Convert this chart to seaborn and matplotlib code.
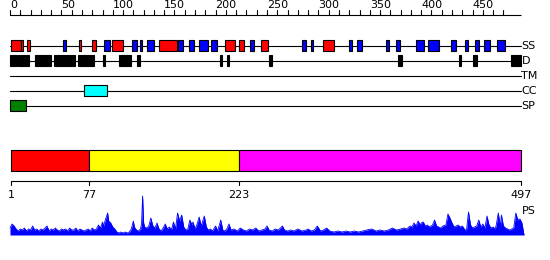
import matplotlib
matplotlib.use("Agg")
import matplotlib.pyplot as plt
from matplotlib.patches import Rectangle
import seaborn as sns
import pandas as pd

# ---------------- data ----------------
seq_len = 497
ruler_ticks = list(range(0, 490, 10))
ruler_labels = list(range(0, 500, 50))

helices = [(1, 11), (11, 13), (17, 19), (67, 69), (80, 84), (99, 110), (145, 162),
           (209, 219), (223, 228), (244, 251), (304, 315)]
strands = [(52, 54), (91, 97), (119, 124), (126, 128), (133, 140), (163, 168),
           (174, 179), (184, 193), (196, 201), (233, 237), (284, 288), (293, 295),
           (330, 333), (338, 342), (366, 369), (375, 379), (395, 403), (407, 417),
           (429, 434), (443, 446), (452, 456), (461, 467), (474, 482)]
disorder = [(0, 7), (8, 18), (24, 40), (43, 63), (66, 82), (90, 92), (106, 118),
            (124, 126), (204, 206), (211, 213), (252, 255), (377, 381), (437, 439),
            (450, 454), (487, 497)]
transmem = []
coiled = [(72, 94)]
signal = [(0, 16)]

track_names = ["SS", "D", "TM", "CC", "SP"]

domain_bounds = [1, 77, 223, 497]
domain_colors = ["#ff0000", "#ffff00", "#ff00ff"]

ps_pos = [0, 2, 4, 6, 8, 10, 12, 14, 16, 18, 20, 22, 24, 26, 28, 30, 32, 34, 36, 38,
          40, 42, 44, 46, 48, 50, 52, 54, 56, 58, 60, 62, 64, 66, 68, 70, 72, 74, 76, 78,
          80, 82, 84, 86, 88, 90, 91, 93, 95, 96, 98, 100, 102, 104, 106, 108, 110, 112,
          114, 116, 118, 120, 121, 123, 125, 127, 128, 129, 130, 131, 133, 135, 137, 139,
          141, 143, 145, 147, 149, 151, 153, 155, 157, 159, 161, 163, 165, 167, 169, 171,
          173, 175, 177, 178, 180, 182, 184, 186, 189, 191, 193, 195, 197, 200, 202, 205,
          207, 209, 211, 213, 215, 218, 221, 224, 227, 230, 233, 236, 239, 242, 245, 248,
          250, 252, 255, 258, 261, 265, 267, 270, 273, 276, 280, 284, 288, 290, 293, 296,
          299, 302, 305, 308, 311, 315, 319, 323, 327, 331, 335, 339, 343, 347, 352, 356,
          360, 364, 368, 372, 376, 380, 383, 386, 389, 391, 393, 395, 397, 399, 400, 402,
          404, 406, 408, 411, 413, 415, 417, 419, 421, 424, 426, 428, 430, 432, 434, 436,
          438, 440, 442, 444, 446, 448, 450, 452, 454, 456, 458, 460, 462, 464, 466, 468,
          470, 472, 473, 475, 477, 478, 480, 482, 484, 486, 488, 490, 492, 494, 496, 498, 500]
ps_val = [7, 11, 9, 6, 4, 6, 5, 7, 4, 6, 5, 9, 5, 6, 4, 6, 5, 7, 9, 4,
          6, 5, 7, 5, 4, 6, 5, 6, 4, 7, 5, 5, 7, 4, 6, 5, 4, 5, 6, 4,
          7, 5, 6, 10, 7, 13, 9, 16, 22, 14, 12, 8, 6, 3, 2, 3, 2, 3,
          2, 3, 6, 14, 8, 5, 4, 6, 12, 39, 12, 8, 7, 9, 17, 9,
          7, 12, 6, 4, 7, 11, 6, 8, 5, 13, 6, 22, 14, 20, 8, 5,
          6, 15, 10, 13, 6, 11, 18, 9, 19, 8, 5, 6, 4, 9, 4, 15,
          5, 4, 6, 11, 5, 6, 4, 7, 5, 4, 6, 5, 7, 4, 5, 6,
          9, 5, 4, 6, 5, 9, 5, 4, 5, 4, 6, 4, 5, 6, 4, 5,
          9, 4, 5, 7, 4, 3, 4, 3, 4, 3, 4, 3, 4, 5, 6, 4,
          5, 4, 5, 7, 5, 6, 7, 6, 9, 8, 12, 9, 14, 10, 12, 13,
          9, 10, 8, 10, 15, 9, 8, 7, 9, 10, 21, 17, 12, 8, 9, 10,
          8, 9, 6, 4, 23, 10, 7, 8, 9, 15, 8, 11, 7, 19, 10, 7,
          8, 6, 10, 22, 8, 20, 9, 7, 6, 5, 6, 7, 22, 15, 16, 12, 0]

# ---------------- layout helpers (pixel coordinates on y) ----------------
X0, S = 10.0, 1.028
W, H = 550, 260

sns.set_style("white")
plt.rcParams["font.family"] = ["DejaVu Sans"]

fig = plt.figure(figsize=(5.5, 2.6), dpi=100)
ax = fig.add_axes([0, 0, 1, 1])
ax.set_xlim(-X0 / S, (W - X0) / S)
ax.set_ylim(H, 0)
ax.axis("off")

LW = 0.8
FS = 8

# top ruler
ruler_y = 14.5
ax.plot([0, seq_len], [ruler_y, ruler_y], color="black", lw=LW, solid_capstyle="butt")
for t in ruler_ticks:
    ax.plot([t, t], [ruler_y, ruler_y - 4.5], color="black", lw=LW)
for t in ruler_labels:
    ax.text(t, 10, str(t), ha="left", va="bottom", fontsize=FS, color="black")

# tracks
track_y = [45.5, 60.5, 75.5, 90.5, 105.5]
track_feats = [None, disorder, transmem, coiled, signal]
track_cols = [None, "black", "#808080", "#00ffff", "#008000"]
box_h = 11
for i, (name, y) in enumerate(zip(track_names, track_y)):
    ax.plot([0, seq_len], [y, y], color="black", lw=LW, zorder=1)
    ax.text(seq_len + 0.5, y + 0.5, name, ha="left", va="center", fontsize=FS, color="black")
    if i == 0:
        feats = [(s, e, "#ff0000") for s, e in helices] + [(s, e, "#0000ff") for s, e in strands]
    else:
        feats = [(s, e, track_cols[i]) for s, e in track_feats[i]]
    for s, e, c in feats:
        ax.add_patch(Rectangle((s, y - box_h / 2), e - s, box_h, facecolor=c,
                               edgecolor="black", lw=LW, zorder=2))

# domain bar
bar_top, bar_h = 150, 21
for (s, e), c in zip(zip(domain_bounds[:-1], domain_bounds[1:]), domain_colors):
    ax.add_patch(Rectangle((s, bar_top), e - s, bar_h, facecolor=c, edgecolor="black",
                           lw=LW, zorder=2))

# bottom ruler
b_y = 180.5
ax.plot([domain_bounds[0], domain_bounds[-1]], [b_y, b_y], color="black", lw=LW)
for b in domain_bounds:
    ax.plot([b, b], [b_y, b_y + 4.5], color="black", lw=LW)
    ax.text(b, 195, str(b), ha="center", va="center", fontsize=FS, color="black")

# PS profile
base = 235
df = pd.DataFrame({"pos": ps_pos, "ps": ps_val})
df["y"] = base - df["ps"]
ax.fill_between(df["pos"], base, df["y"], color="#0000ff", lw=0, zorder=2)
sns.lineplot(data=df, x="pos", y="y", ax=ax, color="#0000ff", lw=0.6, zorder=3)
ax.set_xlim(-X0 / S, (W - X0) / S)
ax.set_ylim(H, 0)
ax.axis("off")
ax.text(seq_len + 0.5, 211, "PS", ha="left", va="center", fontsize=FS, color="black")

fig.savefig("out.png", dpi=100, facecolor="white")
